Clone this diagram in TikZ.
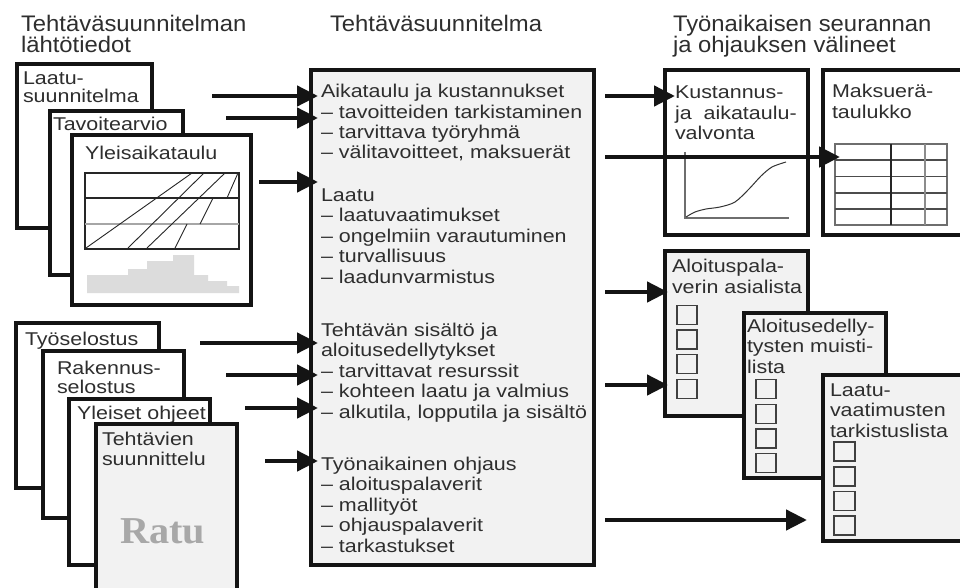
\documentclass[tikz,border=0pt]{standalone}
\usepackage{fontspec}
\setmainfont{Liberation Sans}[FakeStretch=1.16]
\newfontfamily\titlefont{Liberation Sans}[FakeStretch=1.06]
\newfontfamily\ratufont{Liberation Serif}[FakeStretch=1.06]
\usetikzlibrary{arrows.meta}
\definecolor{txt}{HTML}{2E2E2E}
\definecolor{lite}{HTML}{F2F2F2}
\definecolor{edge}{HTML}{141414}
\definecolor{histo}{HTML}{DCDCDC}
\definecolor{ratugray}{HTML}{A8A8A8}
\definecolor{midgray}{HTML}{6E6E6E}
\begin{document}
\begin{tikzpicture}[x=1pt,y=-1pt,
  doc/.style={draw=edge, line width=4.5pt, fill=white, inner sep=0pt, outer sep=0pt, anchor=north west},
  docg/.style={doc, fill=lite},
  lbl/.style={anchor=base west, inner sep=0pt, outer sep=0pt, text=txt, align=left, font=\fontsize{18.5}{20.4}\selectfont},
  ttl/.style={anchor=base west, inner sep=0pt, outer sep=0pt, text=txt, align=left, font=\titlefont\fontsize{22.5}{21.3}\selectfont},
  arr/.style={draw=edge, line width=4.5pt, -{Triangle[length=21pt,width=20pt]}},
  fine/.style={draw=black!85, line width=1.1pt},
  cbox/.style={draw=black!75, line width=1.2pt},
  grid/.style={draw=midgray, line width=1.2pt},
]
\useasboundingbox[fill=white] (0,0) rectangle (960,588);

% titles (base = baseline of last line)
\node[ttl] (t1) at (21,53) {Tehtäväsuunnitelman\\lähtötiedot};
\node[ttl] (t2) at (330,32) {Tehtäväsuunnitelma};
\node[ttl] (t3) at (673,53) {Työnaikaisen seurannan\\ja ohjauksen välineet};

% upper left stack
\node[doc, minimum width=135pt, minimum height=164pt] (laatu) at (17,64) {};
\node[lbl] (laatut) at (23,103) {Laatu-\\[-2pt]suunnitelma};
\node[doc, minimum width=133pt, minimum height=164pt] (tavo) at (50,111) {};
\node[lbl] (tavot) at (53,131) {Tavoitearvio};
\node[doc, minimum width=179pt, minimum height=170pt] (ylei) at (72,135) {};
\node[lbl] (yleit) at (85,160) {Yleisaikataulu};
% schedule chart
\draw[fine] (85,173) rectangle (239,249);
\draw[fine] (85,198) -- (239,198);
\draw[draw=black!35, line width=2pt] (85,224) -- (239,224);
\draw[fine, line width=0.9pt] (86,248) -- (192,173);
\draw[fine, line width=0.9pt] (128,248) -- (204,173);
\draw[fine, line width=0.9pt] (147,248) -- (225,173);
\draw[fine, line width=0.9pt] (175,248) -- (187,224);
\draw[fine, line width=0.9pt] (200,224) -- (213,198);
\draw[fine, line width=0.9pt] (227,198) -- (238,173);
% histogram
\fill[histo] (87,293) -- (87,275) -- (128,275) -- (128,269) -- (147,269) -- (147,261) -- (173,261) -- (173,255) -- (194,255) -- (194,275) -- (208,275) -- (208,281) -- (227,281) -- (227,286) -- (239,286) -- (239,293) -- cycle;

% lower left stack
\node[doc, minimum width=143pt, minimum height=165pt] (tyos) at (16,323) {};
\node[lbl] (tyost) at (25,345) {Työselostus};
\node[doc, minimum width=141pt, minimum height=167pt] (rak) at (43,351) {};
\node[lbl] (rakt) at (57,393) {Rakennus-\\[-1.5pt]selostus};
\node[doc, minimum width=141pt, minimum height=166pt] (yo) at (69,399) {};
\node[lbl] (yot) at (77,419) {Yleiset ohjeet};
\node[docg, minimum width=141pt, minimum height=200pt] (teht) at (96,424) {};
\node[lbl] (tehtt) at (102,465) {Tehtävien\\[-0.5pt]suunnittelu};
\node[anchor=base west, inner sep=0pt, text=ratugray, font=\ratufont\bfseries\fontsize{38}{40}\selectfont] (ratu) at (120,543) {Ratu};

% main box
\node[docg, minimum width=283pt, minimum height=495pt] (main) at (311,70) {};
\node[lbl] (m1) at (321,159) {Aikataulu ja kustannukset\\– tavoitteiden tarkistaminen\\– tarvittava työryhmä\\– välitavoitteet, maksuerät};
\node[lbl] (m2) at (321,283) {Laatu\\– laatuvaatimukset\\– ongelmiin varautuminen\\– turvallisuus\\– laadunvarmistus};
\node[lbl] (m3) at (321,418) {Tehtävän sisältö ja\\aloitusedellytykset\\– tarvittavat resurssit\\– kohteen laatu ja valmius\\– alkutila, lopputila ja sisältö};
\node[lbl] (m4) at (321,552) {Työnaikainen ohjaus\\– aloituspalaverit\\– mallityöt\\– ohjauspalaverit\\– tarkastukset};
\draw[draw=edge, line width=4.5pt] (main.north west) rectangle (main.south east);

% right upper boxes
\node[doc, minimum width=143pt, minimum height=165pt] (kust) at (665,70) {};
\node[lbl] (kustt) at (675,140) {Kustannus-\\[0.6pt]ja\ \ aikataulu-\\valvonta};
\draw[grid] (685,152) -- (685,218) -- (789,218);
\draw[draw=black!80, line width=1pt] plot[smooth] coordinates {(686,217) (695,212) (706,209) (720,207) (735,202) (749,189) (761,176) (772,167) (786,162)};
\node[doc, minimum width=160pt, minimum height=165pt] (maks) at (823,70) {};
\node[lbl] (makst) at (832,119) {Maksuerä-\\[0.6pt]taulukko};
\draw[grid] (835,144) rectangle (947,225);
\foreach \yy in {160,176.5,193,209} \draw[grid, draw=black!70] (835,\yy) -- (947,\yy);
\draw[draw=black!85, line width=1.2pt] (891,144) -- (891,225);
\draw[grid, draw=black!45] (925,144) -- (925,225);

% right lower boxes
\node[docg, minimum width=143pt, minimum height=165pt] (alo1) at (665,251) {};
\node[lbl] (alo1t) at (672,293) {Aloituspala-\\[0.6pt]verin asialista};
\foreach \yy in {305.5,330,354.5,379.5} \draw[cbox] (677,\yy) rectangle (697,\yy+19);
\node[docg, minimum width=142pt, minimum height=165pt] (alo2) at (744,313) {};
\node[lbl] (alo2t) at (747,373) {Aloitusedelly-\\tysten muisti-\\lista};
\foreach \yy in {379.5,404.5,429,453.5} \draw[cbox] (756,\yy) rectangle (776,\yy+19);
\node[docg, minimum width=160pt, minimum height=166pt] (laatv) at (823,375) {};
\node[lbl] (laatvt) at (830,437) {Laatu-\\vaatimusten\\tarkistuslista};
\foreach \yy in {442,467,491.5,516} \draw[cbox] (834,\yy) rectangle (855,\yy+19);

% arrows into main box
\coordinate (a1) at (212,96);
\coordinate (a2) at (226,118);
\coordinate (a3) at (259,182);
\coordinate (a4) at (200,343);
\coordinate (a5) at (226,375);
\coordinate (a6) at (245,408);
\coordinate (a7) at (265,461);
\foreach \c in {a1,a2,a3,a4,a5,a6,a7}
  \draw[arr] (\c) -- ([xshift=7pt]\c -| main.west);

% arrows out of main box
\coordinate (b1) at (605,96);
\coordinate (b2) at (605,157);
\coordinate (b3) at (605,292);
\coordinate (b4) at (605,385);
\coordinate (b5) at (605,520);
\draw[arr] (b1) -- ([xshift=10pt]b1 -| kust.west);
\draw[arr] (b2) -- ([xshift=17pt]b2 -| maks.west);
\draw[arr] (b3) -- ([xshift=3pt]b3 -| alo1.west);
\draw[arr] (b4) -- ([xshift=3pt]b4 -| alo1.west);
\draw[arr] (b5) -- ([xshift=-16pt]b5 -| laatv.west);
\end{tikzpicture}
\end{document}
